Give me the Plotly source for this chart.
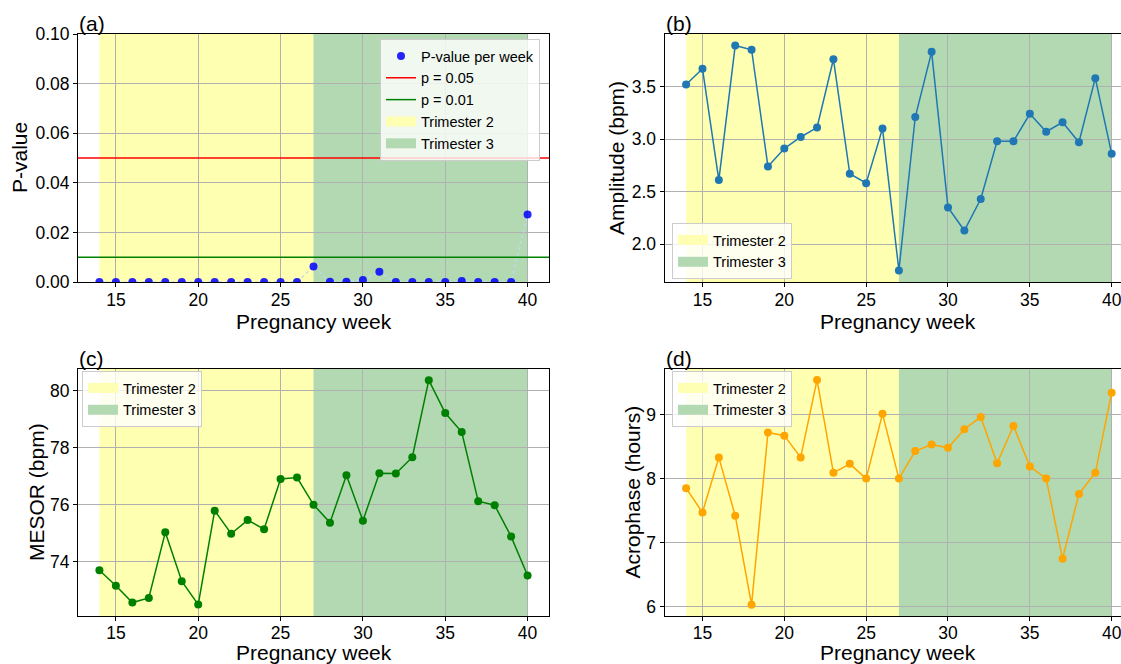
import plotly.graph_objects as go

weeks = list(range(14, 41))
p_values = [0.0, 0.0, 0.0, 0.0, 0.0, 0.0, 0.0, 0.0, 0.0, 0.0, 0.0, 0.0, 0.0,
            0.0063, 0.0001, 0.0001, 0.0008, 0.0041, 0.0, 0.0, 0.0, 0.0,
            0.0004, 0.0, 0.0, 0.0, 0.0272]
amplitude = [3.52, 3.67, 2.61, 3.89, 3.85, 2.74, 2.91, 3.02, 3.11, 3.76,
             2.67, 2.58, 3.10, 1.75, 3.21, 3.83, 2.35, 2.13, 2.43, 2.98,
             2.98, 3.24, 3.07, 3.16, 2.97, 3.58, 2.86]
mesor = [73.70, 73.16, 72.57, 72.73, 75.03, 73.32, 72.50, 75.79, 74.98, 75.46,
         75.14, 76.90, 76.95, 76.00, 75.37, 77.03, 75.44, 77.10, 77.09, 77.66,
         80.36, 79.21, 78.54, 76.12, 75.98, 74.88, 73.52]
acrophase = [7.85, 7.47, 8.33, 7.42, 6.03, 8.72, 8.67, 8.33, 9.54, 8.09,
             8.23, 8.00, 9.01, 8.00, 8.43, 8.53, 8.48, 8.77, 8.96, 8.24,
             8.82, 8.19, 8.00, 6.75, 7.76, 8.09, 9.34]
trimester2 = (14, 27)
trimester3 = (27, 40)
thresholds = [("p = 0.05", 0.05, "red"), ("p = 0.01", 0.01, "green")]
panel_labels = ["(a)", "(b)", "(c)", "(d)"]
x_title = "Pregnancy week"
y_titles = ["P-value", "Amplitude (bpm)", "MESOR (bpm)", "Acrophase (hours)"]

W, H = 1121, 664
FONT = "Liberation Sans, Arial, sans-serif"
TICK = 17.5
TITLE = 21
LEG = 14.5
T2_COLOR = "rgba(255,255,0,0.3)"
T3_COLOR = "rgba(0,128,0,0.3)"
T2_LEG = "rgb(255,255,179)"
T3_LEG = "rgb(179,217,179)"

def px_x(v):
    return v / W

def px_y(v):
    return 1 - v / H

left_dom = [px_x(78), px_x(549)]
right_dom = [px_x(664.5), 1.0]
top_dom = [px_y(282), px_y(34)]
bot_dom = [px_y(616), px_y(369)]

axes_cfg = [
    ("x", "y", left_dom, top_dom, [12.7, 41.3], "legend"),
    ("x2", "y2", right_dom, top_dom, [12.68, 40.57], "legend2"),
    ("x3", "y3", left_dom, bot_dom, [12.7, 41.3], "legend3"),
    ("x4", "y4", right_dom, bot_dom, [12.68, 40.57], "legend4"),
]

fig = go.Figure()

# Panel (a)
fig.add_trace(go.Scatter(x=weeks, y=p_values, mode="lines", xaxis="x", yaxis="y",
                         line=dict(color="rgba(190,220,240,0.9)", width=1.5, dash="dot"),
                         showlegend=False, hoverinfo="skip"))
fig.add_trace(go.Scatter(x=weeks, y=p_values, mode="markers", xaxis="x", yaxis="y",
                         marker=dict(color="blue", size=8, opacity=0.85),
                         name="P-value per week", legend="legend"))
for name, val, col in thresholds:
    fig.add_trace(go.Scatter(x=[None], y=[None], mode="lines", xaxis="x", yaxis="y",
                             line=dict(color=col, width=1.5), name=name, legend="legend"))

fig.add_trace(go.Scatter(x=weeks, y=amplitude, mode="lines+markers", xaxis="x2", yaxis="y2",
                         line=dict(color="#1f77b4", width=1.5), marker=dict(size=8),
                         showlegend=False))
fig.add_trace(go.Scatter(x=weeks, y=mesor, mode="lines+markers", xaxis="x3", yaxis="y3",
                         line=dict(color="green", width=1.5), marker=dict(size=8),
                         showlegend=False))
fig.add_trace(go.Scatter(x=weeks, y=acrophase, mode="lines+markers", xaxis="x4", yaxis="y4",
                         line=dict(color="orange", width=1.5), marker=dict(size=8),
                         showlegend=False))

# legend-only entries for trimester spans
for xa, ya, xd, yd, xr, leg in axes_cfg:
    for nm, colr in [("Trimester 2", T2_LEG), ("Trimester 3", T3_LEG)]:
        fig.add_trace(go.Scatter(x=[None], y=[None], mode="lines", xaxis=xa, yaxis=ya,
                                 line=dict(width=10, color=colr), name=nm, legend=leg))

shapes = []
for name, val, col in thresholds:
    shapes.append(dict(type="line", xref="x domain", yref="y", x0=0, x1=1, y0=val, y1=val,
                       line=dict(color=col, width=1.5), layer="above"))

for xa, ya, xd, yd, xr, leg in axes_cfg:
    shapes.append(dict(type="rect", xref=xa, yref=f"{ya} domain", x0=trimester2[0], x1=trimester2[1],
                       y0=0, y1=1, fillcolor=T2_COLOR, line=dict(width=0), layer="below"))
    shapes.append(dict(type="rect", xref=xa, yref=f"{ya} domain", x0=trimester3[0], x1=trimester3[1],
                       y0=0, y1=1, fillcolor=T3_COLOR, line=dict(width=0), layer="below"))

layout = dict(
    width=W, height=H, margin=dict(l=0, r=0, t=0, b=0, autoexpand=False),
    paper_bgcolor="white", plot_bgcolor="white",
    font=dict(family=FONT, size=TICK, color="black"),
    shapes=shapes,
)

yranges = [[0, 0.1], [1.64, 4.0], [72.1, 80.75], [5.855, 9.71]]
ytickvals = [[0, 0.02, 0.04, 0.06, 0.08, 0.10], [2.0, 2.5, 3.0, 3.5], [74, 76, 78, 80], [6, 7, 8, 9]]
ytickfmt = [".2f", ".1f", "d", "d"]

for i, (xa, ya, xd, yd, xr, leg) in enumerate(axes_cfg):
    xkey = "xaxis" if i == 0 else f"xaxis{i+1}"
    ykey = "yaxis" if i == 0 else f"yaxis{i+1}"
    right_side = i in (1, 3)
    bottom_row = i in (2, 3)
    layout[xkey] = dict(
        domain=xd, range=xr, anchor=ya, automargin=False,
        tickvals=[15, 20, 25, 30, 35, 40], ticks="outside", ticklen=4, tickcolor="black",
        showline=True, linecolor="black", linewidth=1, mirror=True,
        showgrid=True, gridcolor="#b0b0b0", gridwidth=0.8, zeroline=False,
        tickfont=dict(size=TICK), ticklabeloverflow="allow",
        ticklabelstandoff=(-3 if bottom_row else -2),
    )
    layout[ykey] = dict(
        domain=yd, range=yranges[i], anchor=xa, automargin=False,
        tickvals=ytickvals[i], tickformat=ytickfmt[i], ticks="outside", ticklen=4, tickcolor="black",
        showline=True, linecolor="black", linewidth=1, mirror=(not right_side),
        showgrid=True, gridcolor="#b0b0b0", gridwidth=0.8, zeroline=False,
        tickfont=dict(size=TICK),
    )

leg_common = dict(bgcolor="rgba(255,255,255,0.8)", bordercolor="#cccccc", borderwidth=1,
                  font=dict(size=LEG, family=FONT), tracegroupgap=0, itemwidth=30)
layout["legend"] = dict(x=px_x(540), y=px_y(39), xanchor="right", yanchor="top", **leg_common)
layout["legend2"] = dict(x=px_x(672), y=px_y(279), xanchor="left", yanchor="bottom", **leg_common)
layout["legend3"] = dict(x=px_x(82), y=px_y(371), xanchor="left", yanchor="top", **leg_common)
layout["legend4"] = dict(x=px_x(672), y=px_y(371), xanchor="left", yanchor="top", **leg_common)

annotations = []
label_pos = [(77.5, 34), (664.5, 34), (77.5, 369), (664.5, 369)]
for lab, (lx, ly) in zip(panel_labels, label_pos):
    annotations.append(dict(text=lab, xref="paper", yref="paper", x=px_x(lx), y=px_y(ly + 2),
                            xanchor="left", yanchor="bottom", showarrow=False, borderpad=0,
                            font=dict(size=TITLE, family=FONT)))

xtitle_pos = [(313.5, 321), (898, 321), (313.5, 652.5), (898, 652.5)]
for (tx, ty) in xtitle_pos:
    annotations.append(dict(text=x_title, xref="paper", yref="paper", x=px_x(tx), y=px_y(ty),
                            xanchor="center", yanchor="middle", showarrow=False, borderpad=0,
                            font=dict(size=TITLE, family=FONT)))

ytitle_pos = [(20, 158), (617, 158), (36.5, 492.5), (632, 492.5)]
for txt, (tx, ty) in zip(y_titles, ytitle_pos):
    annotations.append(dict(text=txt, xref="paper", yref="paper", x=px_x(tx), y=px_y(ty),
                            xanchor="center", yanchor="middle", textangle=-90, showarrow=False,
                            font=dict(size=TITLE, family=FONT)))
layout["annotations"] = annotations

fig.update_layout(**layout)
fig.write_html("out.html", config={"displayModeBar": False},
               post_script="document.body.style.margin='0';document.body.style.overflow='hidden';")
